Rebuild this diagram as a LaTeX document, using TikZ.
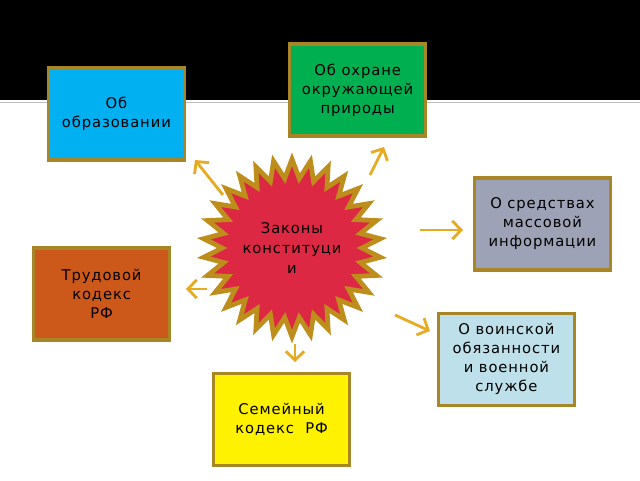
\documentclass[tikz,border=0pt]{standalone}
\usepackage{fontspec}
\setmainfont{DejaVu Sans}[LetterSpace=6]
\usetikzlibrary{shapes.geometric,arrows.meta}
\definecolor{boxgold}{RGB}{166,134,38}
\definecolor{stargold}{RGB}{190,142,28}
\definecolor{arrgold}{RGB}{230,170,35}
\definecolor{zakred}{RGB}{220,40,66}
\definecolor{ohrgreen}{RGB}{0,176,80}
\definecolor{obrblue}{RGB}{0,176,240}
\definecolor{smigray}{RGB}{158,162,182}
\definecolor{trudorange}{RGB}{204,88,26}
\definecolor{voinblue}{RGB}{190,224,234}
\begin{document}
\begin{tikzpicture}[
	box/.style={draw=boxgold,line width=2.2pt,minimum width=3.4cm,minimum height=2.3cm,align=center,inner sep=1pt,font=\fontsize{10.5}{13.5}\selectfont},
	pointer/.style={draw=arrgold,line width=2pt,-{Straight Barb[length=2.2mm,width=4.6mm]}}]
		\useasboundingbox (0,0) rectangle (16,12);
		% top band
		\fill[black] (0,9.5) rectangle (16,12);
		\draw[gray!50,line width=0.8pt] (0,9.43)--(16,9.43);
		% boxes
		\node[box,fill=ohrgreen] (ohr) at (8.94,9.75) {Об охране\\окружающей\\природы};
		\node[box,fill=obrblue] (obr) at (2.91,9.15) {Об\\образовании};
		\node[box,fill=smigray] (smi) at (13.56,6.4) {О средствах\\массовой\\информации};
		\node[box,fill=trudorange] (trud) at (2.54,4.65) {Трудовой\\кодекс\\РФ};
		\node[box,fill=voinblue,text height=1.65cm] (voin) at (12.66,3.01) {О воинской\\обязанности\\и военной\\службе};
		\node[box,fill=yellow] (sem) at (7.04,1.51) {Семейный\\кодекс~~РФ};
		% centre
		\node[star,star points=30,star point ratio=1.27,minimum size=4.4cm,inner sep=0pt,
			fill=zakred,draw=stargold,line width=3.4pt,align=center,
			font=\fontsize{10.5}{14}\selectfont] (zak) at (7.3,5.8) {Законы\\конституци\\и};
		% arrows
		\coordinate (a1) at (5.575,7.125); \coordinate (b1) at (4.875,8.0);
		\coordinate (a2) at (9.25,7.625); \coordinate (b2) at (9.6,8.325);
		\coordinate (a3) at (10.5,6.25); \coordinate (b3) at (11.575,6.25);
		\coordinate (a4) at (5.175,4.775); \coordinate (b4) at (4.65,4.775);
		\coordinate (a5) at (9.875,4.125); \coordinate (b5) at (10.75,3.725);
		\coordinate (a6) at (7.375,3.4); \coordinate (b6) at (7.375,2.95);
		\draw[pointer] (a1)--(b1);
		\draw[pointer] (a2)--(b2);
		\draw[pointer] (a3)--(b3);
		\draw[pointer] (a4)--(b4);
		\draw[pointer] (a5)--(b5);
		\draw[pointer] (a6)--(b6);
\end{tikzpicture}
\end{document}
